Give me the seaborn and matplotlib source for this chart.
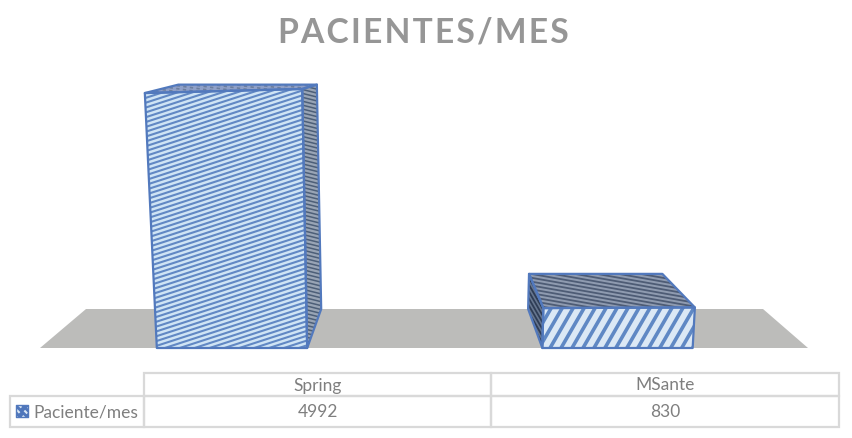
# Patient counts per month, drawn as a perspective bar chart with a data table
import numpy as np
import seaborn as sns
import matplotlib
matplotlib.use('Agg')
import matplotlib.pyplot as plt
from matplotlib.patches import Polygon
from matplotlib.table import Table

# Data
categories = ['Spring', 'MSante']
pacientes = [4992, 830]
series_name = 'Paciente/mes'
title_text = 'PACIENTES/MES'

# Colours
TEXT = '#7f7f7f'
TITLE = '#969696'
BLUE = '#5279bd'
GRID = '#d9d9d9'
FLOOR = '#bcbcba'

W, H = 852, 439
BASE = 349          # pixel row of the chart floor front edge
VP = (424, 24)      # vanishing point of the depth lines
DEPTH = 0.12

sns.set_style('white')
plt.rcParams['font.family'] = ['Lato', 'DejaVu Sans']
fig = plt.figure(figsize=(W / 100, H / 100), dpi=100)

# Value axes, only scale and bars from seaborn
ax = fig.add_axes([0, (H - BASE) / H, 1, BASE / H])
sns.barplot(x=categories, y=pacientes, width=0.39, saturation=1, ax=ax)
unit = 385.5
ax.set_xlim(-232 / unit, (W - 232) / unit)
ax.set_ylim(0, 4992 * BASE / 257)
ax.axis('off')

# Overlay in pixel coordinates for faces and table
ov = fig.add_axes([0, 0, 1, 1])
ov.set_xlim(0, W)
ov.set_ylim(H, 0)
ov.axis('off')


def front_point(x, h, xc):
    # lean of the verticals and slight tilt of the top edge
    h2 = h * (0.93 + 0.07 * h / 257)
    return (x + (x - 412) * 0.047 * h / 257, BASE - h2 * (1 + (x - xc) * 0.000105))


def back_point(p):
    return (p[0] + (VP[0] - p[0]) * DEPTH, p[1] + (VP[1] - p[1]) * DEPTH)


def hatch_face(pts, fill, line, angle, spacing, lw, dashes=None, z=3, edge=1.6):
    poly = Polygon(pts, closed=True, facecolor=fill, edgecolor='none', zorder=z)
    ov.add_patch(poly)
    arr = np.array(pts)
    c = arr.mean(axis=0)
    r = np.ptp(arr, axis=0).max() + 20
    d = np.array([np.cos(np.radians(angle)), np.sin(np.radians(angle))])
    n = np.array([-d[1], d[0]])
    for off in np.arange(-r, r, spacing):
        a = c + n * off - d * r
        b = c + n * off + d * r
        l, = ov.plot([a[0], b[0]], [a[1], b[1]], color=line, lw=lw, zorder=z + 0.1,
                     solid_capstyle='butt')
        if dashes:
            l.set_dashes(dashes)
        l.set_clip_path(poly)
    ov.add_patch(Polygon(pts, closed=True, facecolor='none', edgecolor=BLUE, lw=edge,
                         joinstyle='round', zorder=z + 0.2))


# Floor
ov.add_patch(Polygon([(40, BASE), (808, BASE), (763, 310), (86, 310)], closed=True,
                     facecolor=FLOOR, edgecolor='none', zorder=1))

# Bars: take geometry from seaborn's bars, then draw the 3D faces
to_px = ax.transData
for i, bar in enumerate(ax.patches):
    bar.set_visible(False)
    x0, y0 = to_px.transform((bar.get_x(), 0))
    x1, y1 = to_px.transform((bar.get_x() + bar.get_width(), bar.get_height()))
    h = y1 - y0
    xc = (x0 + x1) / 2
    bl, br = (x0, BASE), (x1, BASE)
    tl, tr = front_point(x0, h, xc), front_point(x1, h, xc)
    tall = h > 100
    btl, btr = back_point(tl), back_point(tr)
    btr = (btr[0], btl[1])  # back edge of the top stays level
    bbl, bbr = back_point(bl), back_point(br)
    if tall:
        hatch_face([br, tr, btr, bbr], '#98a4b5', '#4d5f78', 14, 3.8, 1.1)
        hatch_face([tl, tr, btr, btl], '#8fa0c8', '#6d7f9e', 8, 3, 1.2, dashes=(2, 2))
        hatch_face([bl, br, tr, tl], '#cfe4f5', '#6188c4', -18, 4.6, 1.5)
    else:
        hatch_face([bl, tl, btl, bbl], '#66768f', '#2f3d56', 60, 3.5, 1.3)
        hatch_face([tl, tr, btr, btl], '#8f9bb0', '#4e5c75', 10, 3.8, 1.3)
        hatch_face([bl, br, tr, tl], '#dbe8f5', '#5f88c4', -60, 9.5, 2.6)

# Title, hair spaces open up the letter spacing
ov.text(423, 32, '\u200a'.join(title_text), ha='center', va='center', fontsize=24.2,
        fontweight='bold', color=TITLE)

# Data table under the plot
col_edges = [10, 144, 491, 839]
row_edges = [374, 397, 428]
bbox = [col_edges[0] / W, 1 - row_edges[-1] / H,
        (col_edges[-1] - col_edges[0]) / W, (row_edges[-1] - row_edges[0]) / H]
table = Table(ov, bbox=bbox)
rows = [[''] + categories, [series_name] + [str(v) for v in pacientes]]
for r, row in enumerate(rows):
    for c, txt in enumerate(row):
        cell = table.add_cell(r, c, (col_edges[c + 1] - col_edges[c]) / W,
                              (row_edges[r + 1] - row_edges[r]) / H, text=txt,
                              loc='right' if c == 0 else 'center',
                              edgecolor=GRID, facecolor='none')
        cell.PAD = 0.045
        cell.get_text().set_color(TEXT)
        cell.set_linewidth(1.6)
        if r == 0 and c == 0:
            cell.visible_edges = ''
table.auto_set_font_size(False)
table.set_fontsize(12.5)
ov.add_table(table)

# Legend key inside the table
hatch_face([(16, 406), (28, 406), (28, 418), (16, 418)], '#4f76bb', '#dbe8f5', 45, 5, 1.5,
           dashes=(2, 2), z=6, edge=1)

fig.savefig('out.png', dpi=100)
